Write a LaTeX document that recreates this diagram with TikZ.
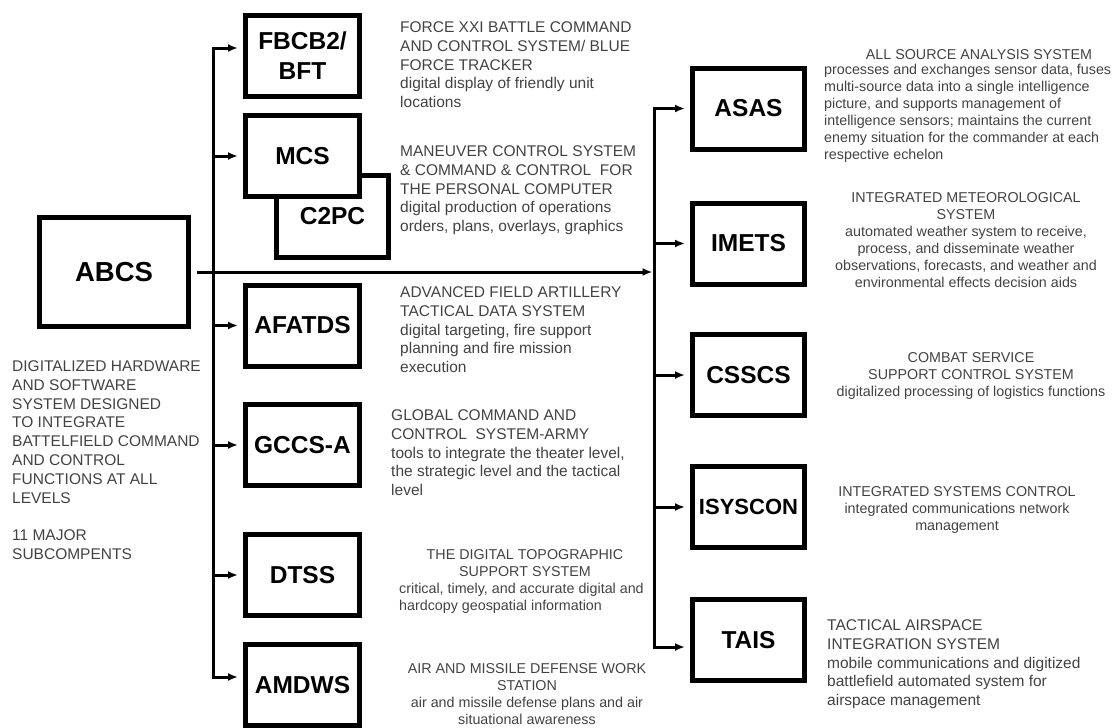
\documentclass[tikz,border=0pt]{standalone}
\usepackage{fontspec}
\setmainfont{Liberation Sans}
\usetikzlibrary{positioning,arrows.meta}
\definecolor{inkgray}{RGB}{66,66,66}

\begin{document}
\begin{tikzpicture}[x=1pt, y=-1pt, >={Latex[length=10pt,width=8pt]},
  sysbox/.style={draw, line width=5pt, fill=white, minimum width=114pt,
                 minimum height=81pt, inner sep=0pt, align=center,
                 font=\bfseries\fontsize{24.5}{30}\selectfont},
  link/.style={line width=3pt},
  desc/.style={inner sep=0pt, text=inkgray, font=\fontsize{15.5}{18.8}\selectfont},
  descsm/.style={inner sep=0pt, text=inkgray, font=\fontsize{14.3}{17}\selectfont}]
  \useasboundingbox (0,0) rectangle (1114,728);

  % the command system and its summary
  \node (abcs) [sysbox, minimum width=149pt, minimum height=109pt,
                font=\bfseries\fontsize{27.5}{33}\selectfont] at (114,272) {ABCS};
  \node (abcstxt) [desc, anchor=north west, align=left] at (12,360.5)
    {DIGITALIZED HARDWARE\\AND SOFTWARE\\SYSTEM DESIGNED\\TO INTEGRATE\\BATTELFIELD COMMAND\\AND CONTROL\\FUNCTIONS AT ALL\\LEVELS\\[18.8pt]11 MAJOR\\SUBCOMPENTS};

  % left column
  \node (fbcb) [sysbox] at (302.5,56) {FBCB2/\\BFT};
  \node (c2pc) [sysbox, minimum width=112pt, minimum height=82pt] at (332.5,216.5) {C2PC};
  \node (mcs) [sysbox] at (302.5,156) {MCS};
  \node (afatds) [sysbox] at (302.5,325.5) {AFATDS};
  \node (gccs) [sysbox] at (302.5,445) {GCCS-A};
  \node (dtss) [sysbox] at (302.5,575) {DTSS};
  \node (amdws) [sysbox] at (302.5,685) {AMDWS};

  \node (fbcbtxt) [desc, anchor=north west, align=left] at (400,21.5)
    {FORCE XXI BATTLE COMMAND\\AND CONTROL SYSTEM/ BLUE\\FORCE TRACKER\\digital display of friendly unit\\locations};
  \node (mcstxt) [desc, anchor=north west, align=left] at (400,145.5)
    {MANEUVER CONTROL SYSTEM\\\& COMMAND \& CONTROL\ \ FOR\\THE PERSONAL COMPUTER\\digital production of operations\\orders, plans, overlays, graphics};
  \node (afatdstxt) [desc, anchor=north west, align=left] at (400,286.5)
    {ADVANCED FIELD ARTILLERY\\TACTICAL DATA SYSTEM\\digital targeting, fire support\\planning and fire mission\\execution};
  \node (gccstxt) [desc, anchor=north west, align=left] at (391,409.5)
    {GLOBAL COMMAND AND\\CONTROL\ \ SYSTEM-ARMY\\tools to integrate the theater level,\\the strategic level and the tactical\\level};
  \node (dtsshead) [descsm, anchor=north, align=center] at (525,549.8)
    {THE DIGITAL TOPOGRAPHIC\\SUPPORT SYSTEM};
  \node (dtsstxt) [descsm, anchor=north west, align=left] at (399,582.7)
    {critical, timely, and accurate digital and\\hardcopy geospatial information};
  \node (amdwstxt) [descsm, anchor=north, align=center] at (527,663.8)
    {AIR AND MISSILE DEFENSE WORK\\STATION\\air and missile defense plans and air\\situational awareness};

  % right column
  \node (asas) [sysbox, minimum width=112pt] at (748.5,108.5) {ASAS};
  \node (imets) [sysbox, minimum width=112pt] at (748.5,243.5) {IMETS};
  \node (csscs) [sysbox, minimum width=112pt] at (748.5,375) {CSSCS};
  \node (isyscon) [sysbox, minimum width=112pt,
                   font=\bfseries\fontsize{22}{26}\selectfont] at (748.5,507) {ISYSCON};
  \node (tais) [sysbox, minimum width=112pt] at (748.5,640) {TAIS};

  \node (asashead) [descsm, anchor=north] at (979,49.8) {ALL SOURCE ANALYSIS SYSTEM};
  \node (asastxt) [descsm, anchor=north west, align=left] at (824,63.7)
    {processes and exchanges sensor data, fuses\\multi-source data into a single intelligence\\picture, and supports management of\\intelligence sensors; maintains the current\\enemy situation for the commander at each\\respective echelon};
  \node (imetstxt) [descsm, anchor=north, align=center] at (966,192.8)
    {INTEGRATED METEOROLOGICAL\\SYSTEM\\automated weather system to receive,\\process, and disseminate weather\\observations, forecasts, and weather and\\environmental effects decision aids};
  \node (cssctxt) [descsm, anchor=north, align=center] at (971,352.8)
    {COMBAT SERVICE\\SUPPORT CONTROL SYSTEM\\digitalized processing of logistics functions};
  \node (isysctxt) [descsm, anchor=north, align=center] at (957,486.8)
    {INTEGRATED SYSTEMS CONTROL\\integrated communications network\\management};
  \node (taistxt) [desc, anchor=north west, align=left] at (827,619.5)
    {TACTICAL AIRSPACE\\INTEGRATION SYSTEM\\mobile communications and digitized\\battlefield automated system for\\airspace management};

  % buses and arrows
  \coordinate (lbus) at (213,270);
  \coordinate (rbus) at (654,270);
  \draw[link, ->, shorten <=6pt, shorten >=1.5pt] (abcs.east) -- (abcs.east -| rbus);
  \draw[link, ->, shorten >=5pt] (lbus) |- ([yshift=8pt]fbcb.west);
  \draw[link, ->, shorten >=5pt] (lbus) |- ([yshift=8pt]amdws.west);
  \foreach \b in {mcs,afatds,gccs,dtss}
    \draw[link, ->, shorten >=5pt] (\b.west -| lbus) -- (\b.west);
  \draw[link, ->, shorten >=5pt] (rbus) |- (asas.west);
  \draw[link, ->, shorten >=5pt] (rbus) |- ([yshift=-7pt]tais.west);
  \foreach \b in {imets,csscs,isyscon}
    \draw[link, ->, shorten >=5pt] (\b.west -| rbus) -- (\b.west);
\end{tikzpicture}
\end{document}
